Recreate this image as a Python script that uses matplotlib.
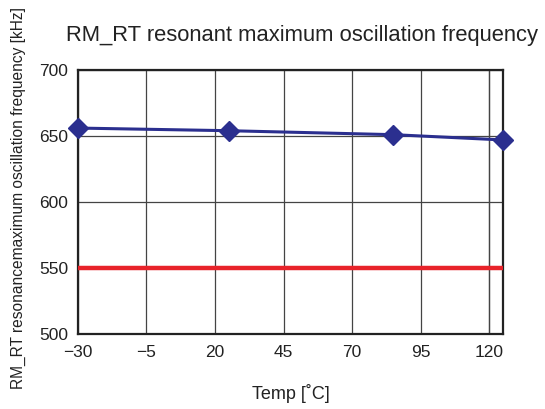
import matplotlib
matplotlib.use("Agg")
import matplotlib.pyplot as plt

temps = [-30, 25, 85, 125]
freqs = [656, 654, 651, 647]
limit_temps = [-30, 125]
limit_freq = [550, 550]
x_ticks = [-30, -5, 20, 45, 70, 95, 120]
x_labels = ["\u221230", "\u22125", "20", "45", "70", "95", "120"]
y_ticks = [500, 550, 600, 650, 700]

plt.rcParams["font.family"] = ["Liberation Sans", "DejaVu Sans"]

fig = plt.figure(figsize=(5.45, 4.09), dpi=100)
ax = fig.add_axes([0.143, 0.183, 0.780, 0.646])

ax.plot(limit_temps, limit_freq, color="#e8232a", lw=3.2, zorder=3)
ax.plot(temps, freqs, color="#2b2f8f", lw=2.2, marker="D", markersize=10.5, zorder=4, clip_on=False)

ax.set_xlim(-30, 125)
ax.set_ylim(500, 700)
ax.set_xticks(x_ticks)
ax.set_xticklabels(x_labels)
ax.set_yticks(y_ticks)
ax.tick_params(length=0, labelsize=12.5, colors="#222222")
ax.tick_params(axis="x", pad=8)
ax.tick_params(axis="y", pad=7)
ax.grid(True, color="#444444", lw=0.9)
ax.axvline(120, color="#444444", lw=0.9)
for s in ax.spines.values():
    s.set_linewidth(1.6)
    s.set_color("#222222")

ax.set_xlabel("Temp [\u02daC]", fontsize=13, labelpad=17, color="#222222")
fig.text(0.034, 0.515, "RM_RT resonancemaximum oscillation frequency [kHz]",
         rotation=90, ha="center", va="center", fontsize=11.2, color="#222222")
fig.text(0.555, 0.914, "RM_RT resonant maximum oscillation frequency",
         ha="center", va="center", fontsize=15.8, color="#222222")

fig.savefig("out.png", dpi=100)
